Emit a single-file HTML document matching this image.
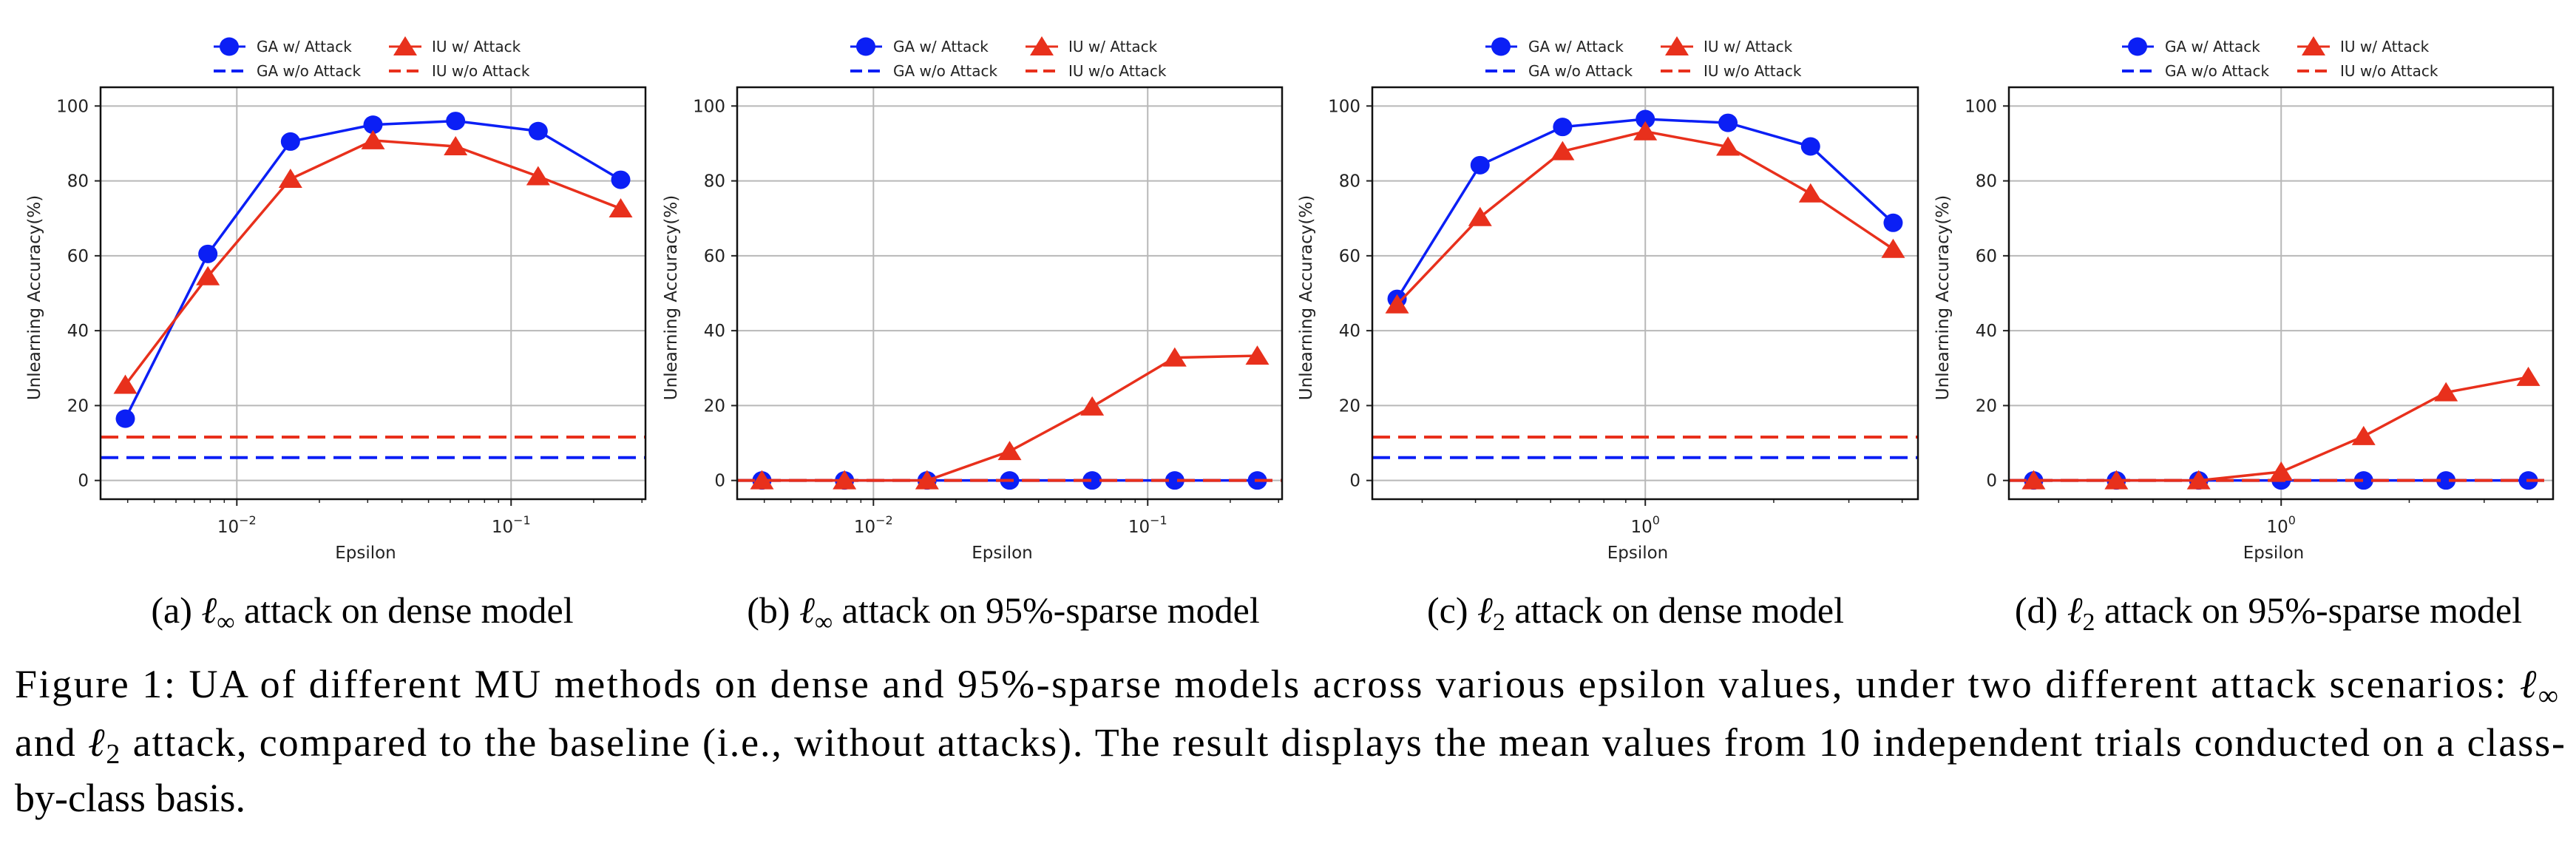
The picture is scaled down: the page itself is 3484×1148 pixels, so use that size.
<!DOCTYPE html>
<html><head><meta charset="utf-8">
<style>
html,body{margin:0;padding:0;background:#fff;}
svg{display:block;}
.cap{font-family:"Liberation Serif","Times New Roman","Nimbus Roman",serif;fill:#000;}
.tk{font-family:"DejaVu Sans","Liberation Sans",sans-serif;fill:#222;}
</style></head>
<body>
<svg id="fig" width="3484" height="1148" viewBox="0 0 3484 1148" xmlns="http://www.w3.org/2000/svg">
<text class="cap" font-family="Liberation Serif, Times New Roman, serif" x="490" y="842" font-size="50" text-anchor="middle">(a) <tspan font-style="italic">ℓ</tspan><tspan font-size="34" dy="10">∞</tspan><tspan dy="-10"> attack on dense model</tspan></text>
<text class="cap" font-family="Liberation Serif, Times New Roman, serif" x="1357" y="842" font-size="50" text-anchor="middle">(b) <tspan font-style="italic">ℓ</tspan><tspan font-size="34" dy="10">∞</tspan><tspan dy="-10"> attack on 95%-sparse model</tspan></text>
<text class="cap" font-family="Liberation Serif, Times New Roman, serif" x="2212" y="842" font-size="50" text-anchor="middle">(c) <tspan font-style="italic">ℓ</tspan><tspan font-size="34" dy="10">2</tspan><tspan dy="-10"> attack on dense model</tspan></text>
<text class="cap" font-family="Liberation Serif, Times New Roman, serif" x="3068" y="842" font-size="50" text-anchor="middle">(d) <tspan font-style="italic">ℓ</tspan><tspan font-size="34" dy="10">2</tspan><tspan dy="-10"> attack on 95%-sparse model</tspan></text>
<text class="cap" font-family="Liberation Serif, Times New Roman, serif" x="20" y="943" font-size="54" textLength="3440" lengthAdjust="spacing">Figure 1: UA of different MU methods on dense and 95%-sparse models across various epsilon values, under two different attack scenarios: <tspan font-style="italic">ℓ</tspan><tspan font-size="38" dy="10">∞</tspan></text>
<text class="cap" font-family="Liberation Serif, Times New Roman, serif" x="20" y="1022" font-size="54" textLength="3449" lengthAdjust="spacing">and <tspan font-style="italic">ℓ</tspan><tspan font-size="38" dy="10">2</tspan><tspan dy="-10"> attack, compared to the baseline (i.e., without attacks). The result displays the mean values from 10 independent trials conducted on a class-</tspan></text>
<text class="cap" font-family="Liberation Serif, Times New Roman, serif" x="20" y="1097" font-size="54">by-class basis.</text>
</svg>
<script>
// ---- data ----
const epsLinf = [1/255, 2/255, 4/255, 8/255, 16/255, 32/255, 64/255];
const epsL2 = [0.262, 0.41, 0.64, 1, 1.5625, 2.44, 3.81];
const gaA = [16.5, 60.5, 90.5, 95, 96, 93.3, 80.3];
const iuA = [25.5, 54.5, 80.5, 90.8, 89.2, 81.2, 72.6];
const gaB = [0, 0, 0, 0, 0, 0, 0];
const iuB = [0, 0, 0, 7.8, 19.7, 32.8, 33.3];
const gaC = [48.5, 84.2, 94.4, 96.5, 95.5, 89.2, 68.8];
const iuC = [47, 70.3, 87.9, 93.2, 89.1, 76.6, 61.8];
const gaD = [0, 0, 0, 0, 0, 0, 0];
const iuD = [0, 0, 0, 2.3, 11.8, 23.5, 27.6];
const gaBaseline = [6.1, 0, 6.1, 0];
const iuBaseline = [11.6, 0, 11.6, 0];
const yTicks = [0, 20, 40, 60, 80, 100];
const xTickExpLinf = [-2, -1];
const xTickExpL2 = [0];

const NS = "http://www.w3.org/2000/svg";
const svg = document.getElementById('fig');
const BLUE = "#0b1ff5", RED = "#e8301c";
function mk(tag, attrs, parent) {
  const e = document.createElementNS(NS, tag);
  for (const k in attrs) e.setAttribute(k, attrs[k]);
  (parent || svg).appendChild(e);
  return e;
}
const panels = [
  {id:'a', left:136, right:873, eps:epsLinf, ga:gaA, iu:iuA, ticks:xTickExpLinf},
  {id:'b', left:997, right:1734, eps:epsLinf, ga:gaB, iu:iuB, ticks:xTickExpLinf},
  {id:'c', left:1856, right:2594, eps:epsL2, ga:gaC, iu:iuC, ticks:xTickExpL2},
  {id:'d', left:2717, right:3453, eps:epsL2, ga:gaD, iu:iuD, ticks:xTickExpL2}
];
const TOP = 118, BOT = 675;
const yScale = v => BOT - (v + 5) / 110 * (BOT - TOP);

panels.forEach((p, pi) => {
  const g = mk('g', {});
  
  
  const lmin = Math.log10(p.eps[0]), lmax = Math.log10(p.eps[p.eps.length - 1]);
  const span = lmax - lmin, lo = lmin - 0.05 * span, hi = lmax + 0.05 * span;
  const xScale = v => p.left + (Math.log10(v) - lo) / (hi - lo) * (p.right - p.left);

  yTicks.forEach(t => {
    const y = yScale(t);
    const gl = mk('line', {x1:p.left, x2:p.right, y1:y, y2:y, stroke:'#b8b8b8', 'stroke-width':2}, g);
    
    
    mk('line', {x1:p.left - 8, x2:p.left, y1:y, y2:y, stroke:'#222', 'stroke-width':2}, g);
    const tl = mk('text', {x:p.left - 16, y:y + 8, 'font-size':23, 'text-anchor':'end', class:'tk'}, g);
    tl.textContent = t;
    
    
  });
  p.ticks.forEach(e => {
    const x = xScale(Math.pow(10, e));
    const gl = mk('line', {x1:x, x2:x, y1:TOP, y2:BOT, stroke:'#b8b8b8', 'stroke-width':2}, g);
    
    
    mk('line', {x1:x, x2:x, y1:BOT, y2:BOT + 9, stroke:'#222', 'stroke-width':2}, g);
    const tl = mk('text', {x:x, y:BOT + 45, 'font-size':23, 'text-anchor':'middle', class:'tk'}, g);
    
    
    tl.textContent = '10';
    const sup = mk('tspan', {'font-size':16, dy:-11}, tl);
    sup.textContent = e < 0 ? '\u2212' + (-e) : String(e);
  });
  for (let d = Math.floor(lo); d <= Math.ceil(hi); d++) {
    for (let m = 2; m <= 9; m++) {
      const v = m * Math.pow(10, d), lv = Math.log10(v);
      if (lv < lo || lv > hi) continue;
      const x = xScale(v);
      mk('line', {x1:x, x2:x, y1:BOT, y2:BOT + 5, stroke:'#222', 'stroke-width':1.5}, g);
    }
  }
  const gy = yScale(gaBaseline[pi]), iy = yScale(iuBaseline[pi]);
  const bl1 = mk('line', {x1:p.left, x2:p.right, y1:gy, y2:gy, stroke:BLUE, 'stroke-width':4, 'stroke-dasharray':'24 11'}, g);
  
  
  const gaPts = p.eps.map((e, i) => xScale(e) + ',' + yScale(p.ga[i])).join(' ');
  const iuPts = p.eps.map((e, i) => xScale(e) + ',' + yScale(p.iu[i])).join(' ');
  const gl1 = mk('polyline', {points:gaPts, fill:'none', stroke:BLUE, 'stroke-width':3.5}, g);
  
  
  p.eps.forEach((e, i) => {
    const c = mk('ellipse', {cx:xScale(e), cy:yScale(p.ga[i]), rx:13, ry:12.5, fill:BLUE}, g);
    
    
  });
  const il1 = mk('polyline', {points:iuPts, fill:'none', stroke:RED, 'stroke-width':3.5}, g);
  
  
  p.eps.forEach((e, i) => {
    const x = xScale(e), y = yScale(p.iu[i]);
    const t = mk('polygon', {points:`${x},${y - 14} ${x - 16},${y + 12} ${x + 16},${y + 12}`, fill:RED}, g);
    
    
  });
  const bl2 = mk('line', {x1:p.left, x2:p.right, y1:iy, y2:iy, stroke:RED, 'stroke-width':4, 'stroke-dasharray':'24 11'}, g);
  
  
  const fr = mk('rect', {x:p.left, y:TOP, width:p.right - p.left, height:BOT - TOP, fill:'none', stroke:'#111', 'stroke-width':2.5}, g);
  
  
  const xl = mk('text', {x:(p.left + p.right) / 2 - 10, y:755, 'font-size':23, 'text-anchor':'middle', class:'tk'}, g);
  xl.textContent = 'Epsilon';
  
  
  const yx = p.left - 82, yc = (TOP + BOT) / 2 + 6;
  const yl = mk('text', {x:yx, y:yc, 'font-size':23, 'text-anchor':'middle', class:'tk', transform:`rotate(-90 ${yx} ${yc})`}, g);
  yl.textContent = 'Unlearning Accuracy(%)';
  
  
  const lg = mk('g', {}, g);
  
  
  const L = p.left;
  const r1 = 63, r2 = 96;
  const e1 = mk('g', {}, lg);
  
  
  mk('line', {x1:L + 153, x2:L + 196, y1:r1, y2:r1, stroke:BLUE, 'stroke-width':3}, e1);
  mk('ellipse', {cx:L + 174, cy:r1, rx:13, ry:12.5, fill:BLUE}, e1);
  const t1 = mk('text', {x:L + 211, y:r1 + 7, 'font-size':20, class:'tk'}, e1); t1.textContent = 'GA w/ Attack';
  const e2 = mk('g', {}, lg);
  
  
  mk('line', {x1:L + 390, x2:L + 434, y1:r1, y2:r1, stroke:RED, 'stroke-width':3}, e2);
  mk('polygon', {points:`${L + 412},${r1 - 14} ${L + 396},${r1 + 12} ${L + 428},${r1 + 12}`, fill:RED}, e2);
  const t2 = mk('text', {x:L + 448, y:r1 + 7, 'font-size':20, class:'tk'}, e2); t2.textContent = 'IU w/ Attack';
  const e3 = mk('g', {}, lg);
  
  
  mk('line', {x1:L + 153, x2:L + 196, y1:r2, y2:r2, stroke:BLUE, 'stroke-width':4, 'stroke-dasharray':'16 8'}, e3);
  const t3 = mk('text', {x:L + 211, y:r2 + 7, 'font-size':20, class:'tk'}, e3); t3.textContent = 'GA w/o Attack';
  const e4 = mk('g', {}, lg);
  
  
  mk('line', {x1:L + 390, x2:L + 434, y1:r2, y2:r2, stroke:RED, 'stroke-width':4, 'stroke-dasharray':'16 8'}, e4);
  const t4 = mk('text', {x:L + 448, y:r2 + 7, 'font-size':20, class:'tk'}, e4); t4.textContent = 'IU w/o Attack';
});
</script>
</body></html>
